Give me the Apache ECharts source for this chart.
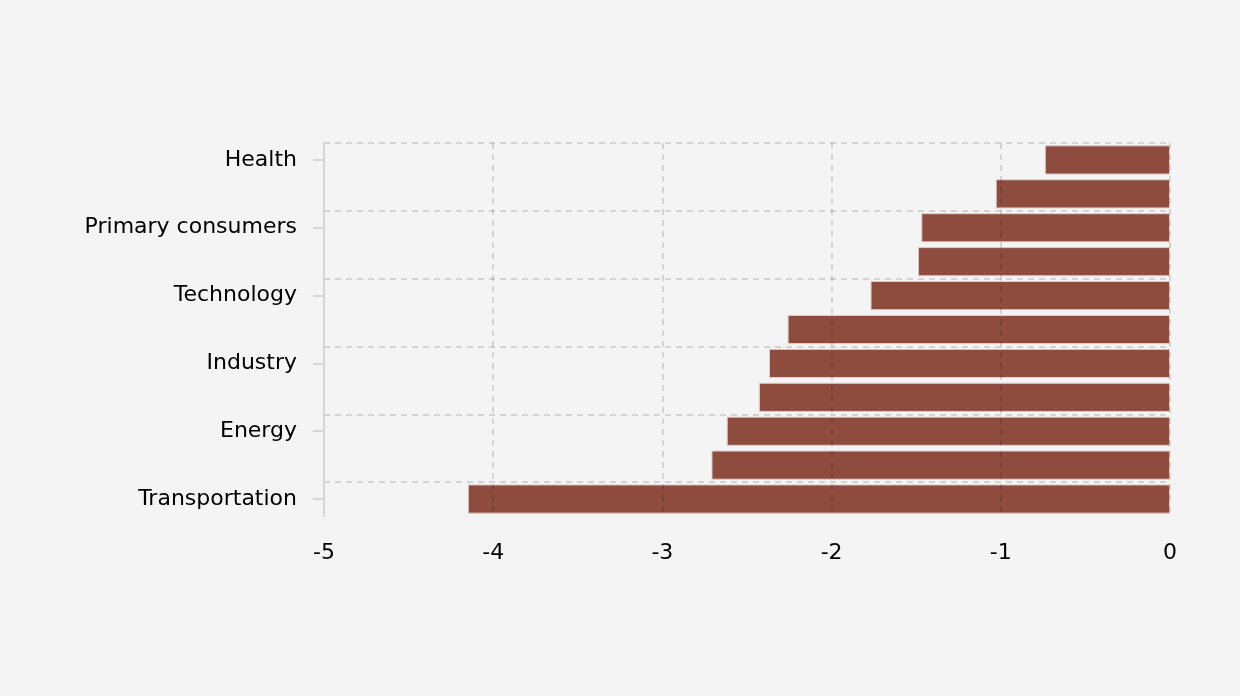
<!DOCTYPE html>
<html>
<head>
<meta charset="utf-8">
<script src="https://cdn.jsdelivr.net/npm/echarts@6/dist/echarts.min.js"></script>
<style>
  html, body { margin: 0; padding: 0; background: #f4f4f4; }
  #chart { width: 1240px; height: 696px; }
</style>
</head>
<body>
<div id="chart"></div>
<script>
// top to bottom (axis is inverted)
var categories = ['Health', 'Utilities', 'Primary consumers', 'Real estate', 'Technology',
  'Telecommunications', 'Industry', 'Financials', 'Energy', 'Materials', 'Transportation'];
var values = [-0.74, -1.03, -1.47, -1.49, -1.77, -2.26, -2.37, -2.43, -2.62, -2.71, -4.15];
var xTicks = [-5, 0];

var chart = echarts.init(document.getElementById('chart'));

var font = 'DejaVu Sans';

chart.setOption({
  backgroundColor: '#f4f4f4',
  grid: { left: 324, right: 70, top: 143, bottom: 180 },
  xAxis: {
    type: 'value',
    min: xTicks[0],
    max: xTicks[1],
    interval: 1,
    z: 3,
    axisLine: { show: false },
    axisTick: { show: false },
    axisLabel: { color: '#000', fontSize: 22, fontFamily: font, margin: 26 },
    // drawn over the bars, semi-transparent like the reference
    splitLine: { show: true, showMinLine: false, lineStyle: { color: 'rgba(0,0,0,0.17)', type: [6, 5], width: 1.5 } }
  },
  yAxis: {
    type: 'category',
    inverse: true,
    data: categories,
    axisLine: { show: true, onZero: false, lineStyle: { color: '#d6d6d6', width: 2 } },
    axisTick: { show: true, interval: 1, alignWithLabel: true, length: 11, lineStyle: { color: '#d6d6d6', width: 2 } },
    axisLabel: { color: '#000', fontSize: 22, fontFamily: font, interval: 1, margin: 27 },
    splitLine: { show: true, showMaxLine: false, interval: 1, lineStyle: { color: '#c8c8c8', type: [6, 5], width: 1.5 } }
  },
  series: [{
    type: 'bar',
    data: values,
    barCategoryGap: '14%',
    z: 1,
    itemStyle: { color: 'rgba(136,66,53,0.95)', borderColor: '#e0cfcc', borderWidth: 1 }
  }]
});
</script>
</body>
</html>
